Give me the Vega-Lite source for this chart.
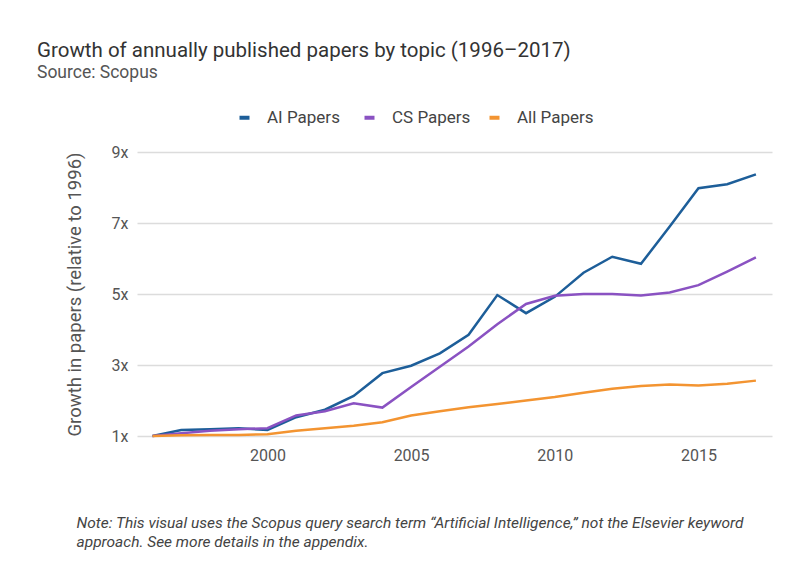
{
  "$schema": "https://vega.github.io/schema/vega-lite/v6.json",
  "width": 635,
  "height": 284,
  "autosize": {"type": "none"},
  "padding": {"left": 137, "top": 152, "right": 13, "bottom": 135},
  "background": "white",
  "title": {
    "text": "Growth of annually published papers by topic (1996–2017)",
    "subtitle": "Source: Scopus",
    "anchor": "start",
    "frame": "group",
    "dx": -100,
    "dy": -18,
    "font": "Roboto",
    "fontSize": 20.5,
    "fontWeight": "normal",
    "color": "#333333",
    "subtitleFont": "Roboto",
    "subtitleFontSize": 17.5,
    "subtitleColor": "#555555",
    "subtitlePadding": 2,
    "offset": 10
  },
  "data": {
    "values": [
      {"year": 1996, "series": "AI Papers", "value": 1.0},
      {"year": 1997, "series": "AI Papers", "value": 1.17},
      {"year": 1998, "series": "AI Papers", "value": 1.19},
      {"year": 1999, "series": "AI Papers", "value": 1.22},
      {"year": 2000, "series": "AI Papers", "value": 1.17},
      {"year": 2001, "series": "AI Papers", "value": 1.53},
      {"year": 2002, "series": "AI Papers", "value": 1.74},
      {"year": 2003, "series": "AI Papers", "value": 2.13},
      {"year": 2004, "series": "AI Papers", "value": 2.77},
      {"year": 2005, "series": "AI Papers", "value": 2.98},
      {"year": 2006, "series": "AI Papers", "value": 3.33},
      {"year": 2007, "series": "AI Papers", "value": 3.85},
      {"year": 2008, "series": "AI Papers", "value": 4.97},
      {"year": 2009, "series": "AI Papers", "value": 4.46},
      {"year": 2010, "series": "AI Papers", "value": 4.92},
      {"year": 2011, "series": "AI Papers", "value": 5.6},
      {"year": 2012, "series": "AI Papers", "value": 6.05},
      {"year": 2013, "series": "AI Papers", "value": 5.85},
      {"year": 2014, "series": "AI Papers", "value": 6.9},
      {"year": 2015, "series": "AI Papers", "value": 7.98},
      {"year": 2016, "series": "AI Papers", "value": 8.09},
      {"year": 2017, "series": "AI Papers", "value": 8.37},
      {"year": 1996, "series": "CS Papers", "value": 1.0},
      {"year": 1997, "series": "CS Papers", "value": 1.08},
      {"year": 1998, "series": "CS Papers", "value": 1.15},
      {"year": 1999, "series": "CS Papers", "value": 1.19},
      {"year": 2000, "series": "CS Papers", "value": 1.22},
      {"year": 2001, "series": "CS Papers", "value": 1.58},
      {"year": 2002, "series": "CS Papers", "value": 1.7},
      {"year": 2003, "series": "CS Papers", "value": 1.92},
      {"year": 2004, "series": "CS Papers", "value": 1.8},
      {"year": 2005, "series": "CS Papers", "value": 2.38},
      {"year": 2006, "series": "CS Papers", "value": 2.95},
      {"year": 2007, "series": "CS Papers", "value": 3.52},
      {"year": 2008, "series": "CS Papers", "value": 4.15},
      {"year": 2009, "series": "CS Papers", "value": 4.72},
      {"year": 2010, "series": "CS Papers", "value": 4.95},
      {"year": 2011, "series": "CS Papers", "value": 5.0},
      {"year": 2012, "series": "CS Papers", "value": 5.0},
      {"year": 2013, "series": "CS Papers", "value": 4.96},
      {"year": 2014, "series": "CS Papers", "value": 5.04},
      {"year": 2015, "series": "CS Papers", "value": 5.25},
      {"year": 2016, "series": "CS Papers", "value": 5.63},
      {"year": 2017, "series": "CS Papers", "value": 6.03},
      {"year": 1996, "series": "All Papers", "value": 1.0},
      {"year": 1997, "series": "All Papers", "value": 1.02},
      {"year": 1998, "series": "All Papers", "value": 1.03},
      {"year": 1999, "series": "All Papers", "value": 1.03},
      {"year": 2000, "series": "All Papers", "value": 1.05},
      {"year": 2001, "series": "All Papers", "value": 1.15},
      {"year": 2002, "series": "All Papers", "value": 1.22},
      {"year": 2003, "series": "All Papers", "value": 1.29},
      {"year": 2004, "series": "All Papers", "value": 1.39},
      {"year": 2005, "series": "All Papers", "value": 1.58},
      {"year": 2006, "series": "All Papers", "value": 1.7},
      {"year": 2007, "series": "All Papers", "value": 1.81},
      {"year": 2008, "series": "All Papers", "value": 1.9},
      {"year": 2009, "series": "All Papers", "value": 2.0},
      {"year": 2010, "series": "All Papers", "value": 2.1},
      {"year": 2011, "series": "All Papers", "value": 2.22},
      {"year": 2012, "series": "All Papers", "value": 2.33},
      {"year": 2013, "series": "All Papers", "value": 2.41},
      {"year": 2014, "series": "All Papers", "value": 2.45},
      {"year": 2015, "series": "All Papers", "value": 2.42},
      {"year": 2016, "series": "All Papers", "value": 2.47},
      {"year": 2017, "series": "All Papers", "value": 2.56}
    ]
  },
  "mark": {"type": "line", "strokeWidth": 2.5, "strokeJoin": "miter"},
  "encoding": {
    "x": {
      "field": "year",
      "type": "quantitative",
      "scale": {"domain": [1995.46, 2017.56], "nice": false, "zero": false},
      "axis": {
        "values": [2000, 2005, 2010, 2015],
        "format": "d",
        "grid": false,
        "domain": false,
        "ticks": false,
        "labelFont": "Roboto",
        "labelFontSize": 16,
        "labelColor": "#555555",
        "labelPadding": 11,
        "title": [
          "Note: This visual uses the Scopus query search term “Artificial Intelligence,” not the Elsevier keyword",
          "approach. See more details in the appendix."
        ],
        "titleFont": "Roboto",
        "titleFontSize": 15.5,
        "titleFontStyle": "italic",
        "titleFontWeight": "normal",
        "titleColor": "#444444",
        "titleAlign": "left",
        "titleAnchor": "start",
        "titleBaseline": "top",
        "titleX": -61,
        "titleY": 79,
        "titleLineHeight": 19
      }
    },
    "y": {
      "field": "value",
      "type": "quantitative",
      "scale": {"domain": [1, 9], "nice": false, "zero": false},
      "axis": {
        "values": [1, 3, 5, 7, 9],
        "labelExpr": "datum.value + 'x'",
        "domain": false,
        "ticks": false,
        "gridColor": "#dcdcdc",
        "gridWidth": 1.6,
        "labelFont": "Roboto",
        "labelFontSize": 16,
        "labelColor": "#555555",
        "labelPadding": 9,
        "title": "Growth in papers (relative to 1996)",
        "titleFont": "Roboto",
        "titleFontSize": 18.5,
        "titleFontWeight": "normal",
        "titleColor": "#555555",
        "titlePadding": 27
      }
    },
    "color": {
      "field": "series",
      "type": "nominal",
      "scale": {
        "domain": ["AI Papers", "CS Papers", "All Papers"],
        "range": ["#1d5e99", "#8a52c2", "#f39431"]
      },
      "legend": {
        "title": null,
        "orient": "none",
        "direction": "horizontal",
        "legendX": 99,
        "legendY": -43,
        "symbolType": "stroke",
        "symbolSize": 100,
        "symbolStrokeWidth": 4,
        "labelFont": "Roboto",
        "labelFontSize": 17,
        "labelColor": "#444444",
        "labelOffset": 14,
        "gridAlign": "all",
        "columnPadding": 10
      }
    }
  },
  "config": {
    "view": {"stroke": null}
  }
}
